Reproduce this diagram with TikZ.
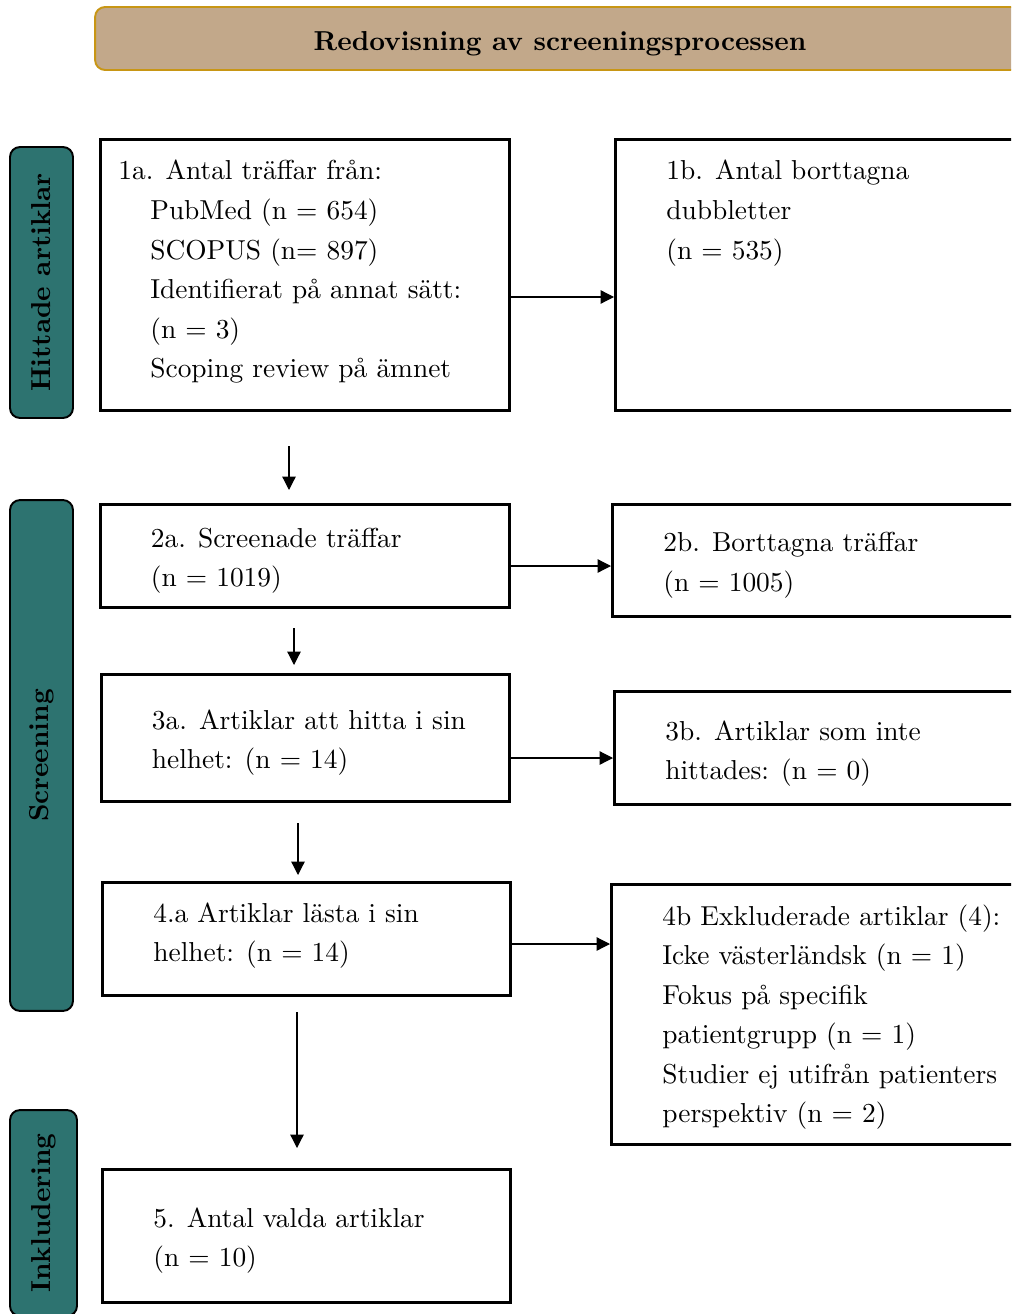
\documentclass[tikz,border=0pt]{standalone}
\usepackage{fontspec}
\setmainfont{lmroman10}[Extension=.otf, UprightFont=*-regular, BoldFont=*-bold, ItalicFont=*-italic, BoldItalicFont=*-bolditalic]
\usetikzlibrary{arrows.meta}
\definecolor{rubrikfarg}{RGB}{194,168,138}
\definecolor{guld}{RGB}{200,150,20}
\definecolor{kricka}{RGB}{45,115,112}
\tikzset{
	ruta/.style={draw, line width=1.5pt, anchor=north west, inner sep=0pt},
	fas/.style={draw, fill=kricka, line width=1.1pt, rounded corners=0.2cm, rotate=90, inner sep=0pt, font=\bfseries\fontsize{15.6}{18}\selectfont},
	txt/.style={align=left, inner sep=0pt, font=\fontsize{15.6}{22.5}\selectfont},
	pil/.style={line width=0.7pt, -{Triangle[length=7.6pt,width=7.6pt]}},
}
\begin{document}
\begin{tikzpicture}[x=0.02cm, y=-0.02cm]
		\useasboundingbox (0,0) rectangle (1011,1314);
		\clip (0,0) rectangle (1011,1314);
		\node[draw=guld, fill=rubrikfarg, line width=1.1pt, rounded corners=0.2cm, minimum width=18.6cm, minimum height=1.26cm] (rubrik) at (560,38.5) {};
		\node[font=\bfseries\fontsize{15.6}{18}\selectfont, yshift=-0.1cm] (rubriktext) at (rubrik.center) {Redovisning av screeningsprocessen};
		\node[fas, minimum width=5.42cm, minimum height=1.26cm] (hittade) at (41.5,282.5) {Hittade artiklar};
		\node[fas, minimum width=10.22cm, minimum height=1.26cm] (screening) at (41.5,755.5) {Screening};
		\node[fas, minimum width=4.12cm, minimum height=1.34cm] (inkl) at (43.5,1213) {Inkludering};
		\node[ruta, minimum width=8.18cm, minimum height=5.42cm] (b1a) at (99,138) {};
		\node[ruta, minimum width=8.4cm, minimum height=5.42cm] (b1b) at (614,138) {};
		\node[ruta, minimum width=8.18cm, minimum height=2.06cm] (b2a) at (99,503) {};
		\node[ruta, minimum width=8.4cm, minimum height=2.24cm] (b2b) at (611,503) {};
		\node[ruta, minimum width=8.16cm, minimum height=2.54cm] (b3a) at (100,673) {};
		\node[ruta, minimum width=8.4cm, minimum height=2.26cm] (b3b) at (613,690) {};
		\node[ruta, minimum width=8.16cm, minimum height=2.26cm] (b4a) at (101,881) {};
		\node[ruta, minimum width=8.4cm, minimum height=5.2cm] (b4b) at (610,883) {};
		\node[ruta, minimum width=8.16cm, minimum height=2.66cm] (b5) at (101,1168) {};
		\node[txt, anchor=west, xshift=0.38cm, yshift=0.06cm] (t1a) at (b1a.west) {1a. Antal träffar från:\\\hspace*{0.64cm}PubMed (n = 654)\\\hspace*{0.64cm}SCOPUS (n= 897)\\\hspace*{0.64cm}Identifierat på annat sätt:\\\hspace*{0.64cm}(n = 3)\\\hspace*{0.64cm}Scoping review på ämnet};
		\node[txt, anchor=north west, xshift=1.04cm, yshift=-0.44cm] (t1b) at (b1b.north west) {1b. Antal borttagna\\dubbletter\\(n = 535)};
		\node[txt, anchor=west, xshift=1.03cm, yshift=-0.1cm] (t2a) at (b2a.west) {2a. Screenade träffar\\(n = 1019)};
		\node[txt, anchor=west, xshift=1.04cm, yshift=-0.1cm] (t2b) at (b2b.west) {2b. Borttagna träffar\\(n = 1005)};
		\node[txt, anchor=west, xshift=1.03cm, yshift=-0.1cm] (t3a) at (b3a.west) {3a. Artiklar att hitta i sin\\helhet: (n = 14)};
		\node[txt, anchor=west, xshift=1.04cm, yshift=-0.12cm] (t3b) at (b3b.west) {3b. Artiklar som inte\\hittades: (n = 0)};
		\node[txt, anchor=west, xshift=1.04cm, yshift=0.06cm] (t4a) at (b4a.west) {4.a Artiklar lästa i sin\\helhet: (n = 14)};
		\node[txt, anchor=west, xshift=1.04cm, yshift=-0.06cm] (t4b) at (b4b.west) {4b Exkluderade artiklar (4):\\Icke västerländsk (n = 1)\\Fokus på specifik\\patientgrupp (n = 1)\\Studier ej utifrån patienters\\perspektiv (n = 2)};
		\node[txt, anchor=west, xshift=1.04cm, yshift=-0.1cm] (t5) at (b5.west) {5. Antal valda artiklar\\(n = 10)};
		\coordinate (h1) at (0,297);
		\coordinate (h2) at (0,566);
		\coordinate (h3) at (0,758);
		\coordinate (h4) at (0,944);
		\draw[pil] (b1a.east |- h1) -- (b1b.west |- h1);
		\draw[pil] (b2a.east |- h2) -- (b2b.west |- h2);
		\draw[pil] (b3a.east |- h3) -- (b3b.west |- h3);
		\draw[pil] (b4a.east |- h4) -- (b4b.west |- h4);
		\coordinate (v1a) at (289,446);
		\coordinate (v1b) at (289,490);
		\coordinate (v2a) at (294,628);
		\coordinate (v2b) at (294,665);
		\coordinate (v3a) at (298,823);
		\coordinate (v3b) at (298,875);
		\coordinate (v4a) at (297,1012);
		\coordinate (v4b) at (297,1148);
		\draw[pil] (v1a) -- (v1b);
		\draw[pil] (v2a) -- (v2b);
		\draw[pil] (v3a) -- (v3b);
		\draw[pil] (v4a) -- (v4b);
	\end{tikzpicture}
\end{document}
